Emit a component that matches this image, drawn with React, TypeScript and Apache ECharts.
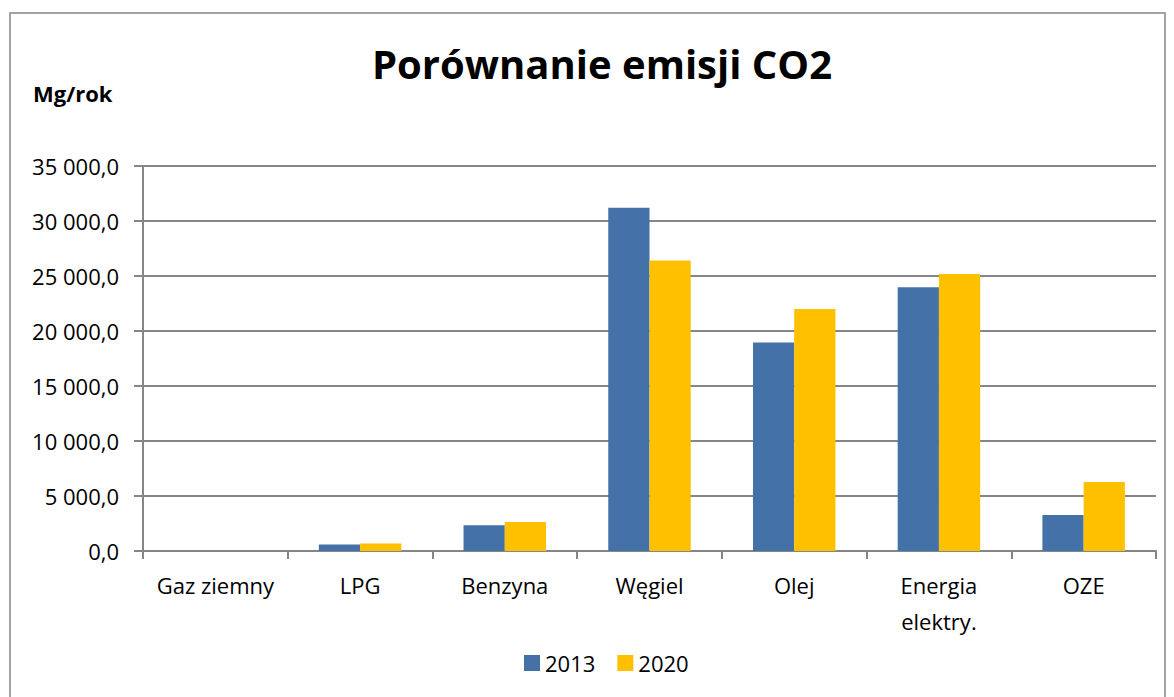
import React, { useEffect, useRef } from "react";
import * as echarts from "echarts";

const categories = ["Gaz ziemny", "LPG", "Benzyna", "Węgiel", "Olej", "Energia\nelektry.", "OZE"];
const series2013 = [0, 600, 2340, 31200, 18950, 23970, 3270];
const series2020 = [0, 680, 2640, 26400, 22000, 25180, 6270];
const seriesNames = ["2013", "2020"];
const colors = ["#4472A8", "#FFC000"];

const fmt = (v: number) => {
  const s = Math.round(v).toString().replace(/\B(?=(\d{3})+(?!\d))/g, " ");
  return s + ",0";
};

export default function App() {
  const ref = useRef<HTMLDivElement>(null);
  useEffect(() => {
    if (!ref.current) return;
    const chart = echarts.init(ref.current, undefined, { renderer: "svg" });
    const font = "'Open Sans', sans-serif";
    chart.setOption({
      animation: false,
      backgroundColor: "#fff",
      textStyle: { fontFamily: font },
      title: {
        text: "Porównanie emisji CO2",
        left: 597,
        top: 38,
        textAlign: "center",
        textStyle: { fontSize: 40, fontWeight: "bold", color: "#000", fontFamily: font },
      },
      graphic: [
        {
          type: "rect",
          shape: { x: 10, y: 13, width: 1155, height: 700 },
          style: { fill: "none", stroke: "#868686", lineWidth: 1.5 },
          silent: true,
        },
        {
          type: "text",
          left: 33,
          top: 82,
          style: { text: "Mg/rok", fontSize: 22, fontWeight: "bold", fill: "#000", fontFamily: font },
        },
      ],
      legend: {
        bottom: 18,
        left: 519,
        itemWidth: 16,
        itemHeight: 16,
        itemGap: 22,
        icon: "rect",
        textStyle: { fontSize: 22, color: "#000", fontFamily: font },
        data: seriesNames,
      },
      grid: { left: 143, right: 18, top: 166, bottom: 146 },
      xAxis: {
        type: "category",
        data: categories,
        axisLine: { lineStyle: { color: "#868686", width: 2 } },
        axisTick: { show: true, length: 8, lineStyle: { color: "#868686", width: 2 } },
        axisLabel: { interval: 0, fontSize: 22, color: "#000", margin: 16, lineHeight: 36, fontFamily: font },
      },
      yAxis: {
        type: "value",
        min: 0,
        max: 35000,
        interval: 5000,
        axisLine: { show: true, lineStyle: { color: "#868686", width: 2 } },
        axisTick: { show: true, length: 9, lineStyle: { color: "#868686", width: 2 } },
        splitLine: { lineStyle: { color: "#868686", width: 2 } },
        axisLabel: { fontSize: 22, color: "#000", margin: 24, formatter: fmt, fontFamily: font },
      },
      series: [
        {
          name: seriesNames[0],
          type: "bar",
          data: series2013,
          itemStyle: { color: colors[0] },
          barGap: "0%",
          barCategoryGap: "43%",
        },
        {
          name: seriesNames[1],
          type: "bar",
          data: series2020,
          itemStyle: { color: colors[1] },
          barGap: "0%",
          barCategoryGap: "43%",
        },
      ],
    });
    return () => chart.dispose();
  }, []);
  return (
    <div
      ref={ref}
      style={{ position: "absolute", left: 0, top: 0, width: 1174, height: 697 }}
    />
  );
}
